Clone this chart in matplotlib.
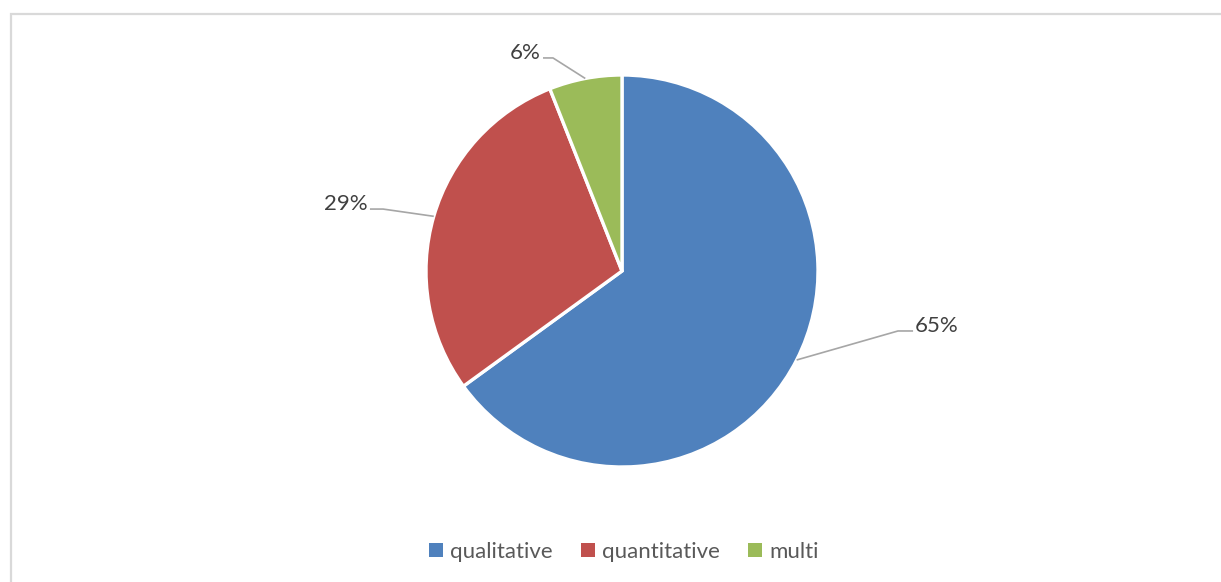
import matplotlib
matplotlib.use("Agg")
import matplotlib.pyplot as plt
from matplotlib.patches import Rectangle, Patch
import numpy as np

categories = ["qualitative", "quantitative", "multi"]
shares = [65, 29, 6]
colors = ["#4F81BD", "#C0504D", "#9BBB59"]

W, H = 1221, 582
fig = plt.figure(figsize=(W / 100, H / 100), dpi=100)
plt.rcParams["font.family"] = ["Lato", "DejaVu Sans"]

# chart border (light gray, cropped at right and bottom)
fig.add_artist(Rectangle((11 / W, -0.05), 1.2, 1 - 14 / H + 0.05,
                         transform=fig.transFigure, fill=False,
                         edgecolor="#D9D9D9", linewidth=1.6))

cx, cy, r = 622, 271, 196
ax = fig.add_axes([(cx - r) / W, (H - cy - r) / H, 2 * r / W, 2 * r / H])

wedges, _ = ax.pie(shares, colors=colors, startangle=90, counterclock=False,
                   radius=1, center=(0, 0),
                   wedgeprops=dict(edgecolor="white", linewidth=2.4))
ax.set_xlim(-1, 1)
ax.set_ylim(-1, 1)
ax.set_aspect("equal")
ax.axis("off")

# label elbow / end positions (data units of the pie axes)
elbows = [(1.408, -0.306), (-1.219, 0.316), (-0.352, 1.087)]
ends_x = [1.485, -1.286, -0.403]
label_color = "#404040"
line_color = "#A6A6A6"
for w, val, (ex, ey), tx in zip(wedges, shares, elbows, ends_x):
    ang = np.deg2rad((w.theta1 + w.theta2) / 2)
    px, py = np.cos(ang), np.sin(ang)
    ax.plot([px, ex, tx], [py, ey, ey], color=line_color, lw=1.2,
            clip_on=False, solid_capstyle="butt")
    ha = "left" if tx > ex else "right"
    dx = 0.010 if ha == "left" else -0.010
    ax.text(tx + dx, ey - 0.006, f"{val}%", ha=ha, va="baseline",
            fontsize=16, color=label_color, clip_on=False)

handles = [Patch(facecolor=c, edgecolor="none") for c in colors]
fig.legend(handles, categories, loc="center", bbox_to_anchor=(624 / W, 1 - 552 / H),
           ncol=3, frameon=False, fontsize=16, labelcolor="#595959",
           handlelength=0.62, handleheight=0.62, handletextpad=0.35,
           columnspacing=1.25)

fig.savefig("out.png", dpi=100)
